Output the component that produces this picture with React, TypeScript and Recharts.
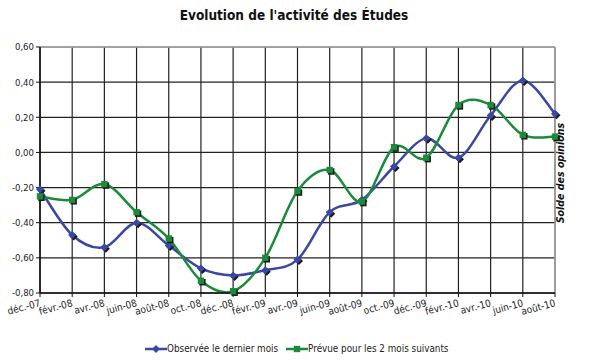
import { LineChart, Line, XAxis, YAxis, CartesianGrid, ReferenceLine } from "recharts";

document.body.style.margin = "0";

const months = [
  "déc.-07", "févr.-08", "avr.-08", "juin-08", "août-08", "oct.-08", "déc.-08",
  "févr.-09", "avr.-09", "juin-09", "août-09", "oct.-09", "déc.-09", "févr.-10",
  "avr.-10", "juin-10", "août-10",
];
const observed = [
  -0.21, -0.47, -0.54, -0.4, -0.53, -0.66, -0.7, -0.67, -0.61, -0.34, -0.27,
  -0.08, 0.08, -0.03, 0.21, 0.41, 0.22,
];
const forecast = [
  -0.25, -0.27, -0.18, -0.34, -0.49, -0.73, -0.79, -0.6, -0.22, -0.1, -0.28,
  0.03, -0.03, 0.27, 0.27, 0.1, 0.09,
];
const yTicks = [-0.8, -0.6, -0.4, -0.2, 0, 0.2, 0.4, 0.6];

const SERIES = [
  { key: "observed", name: "Observée le dernier mois", color: "#3a48a4", shape: "diamond" },
  { key: "forecast", name: "Prévue pour les 2 mois suivants", color: "#1b8a3a", shape: "square" },
];

const FONT = "'DejaVu Sans Condensed', 'DejaVu Sans', sans-serif";

const data = months.map((m, i) => ({ month: m, observed: observed[i], forecast: forecast[i] }));

// excel-like smoothed line (catmull-rom through the points)
function excelCurve(context: any) {
  let pts: number[][] = [];
  return {
    areaStart() {},
    areaEnd() {},
    lineStart() {
      pts = [];
    },
    lineEnd() {
      if (!pts.length) return;
      context.moveTo(pts[0][0], pts[0][1]);
      for (let i = 0; i < pts.length - 1; i++) {
        const p0 = pts[i - 1] || pts[i];
        const p1 = pts[i];
        const p2 = pts[i + 1];
        const p3 = pts[i + 2] || p2;
        context.bezierCurveTo(
          p1[0] + (p2[0] - p0[0]) / 6,
          p1[1] + (p2[1] - p0[1]) / 6,
          p2[0] - (p3[0] - p1[0]) / 6,
          p2[1] - (p3[1] - p1[1]) / 6,
          p2[0],
          p2[1]
        );
      }
    },
    point(x: number, y: number) {
      pts.push([x, y]);
    },
  };
}

function markerPath(shape: string, cx: number, cy: number) {
  if (shape === "diamond") {
    const r = 4;
    return `M${cx},${cy - r}L${cx + r},${cy}L${cx},${cy + r}L${cx - r},${cy}Z`;
  }
  const r = 3.2;
  return `M${cx - r},${cy - r}H${cx + r}V${cy + r}H${cx - r}Z`;
}

function makeDot(shape: string, color: string) {
  return (props: any) => {
    const { cx, cy, index } = props;
    if (cx == null || cy == null) return null;
    return (
      <g key={index}>
        <path d={markerPath(shape, cx + 1.5, cy + 1.5)} fill="#1a1a1a" />
        <path d={markerPath(shape, cx, cy)} fill={color} />
      </g>
    );
  };
}

function XTick({ x, y, payload }: any) {
  const ty = y + 7;
  return (
    <text
      x={x + 1}
      y={ty}
      transform={`rotate(-15 ${x + 1} ${ty})`}
      textAnchor="end"
      fontSize={10}
      fontFamily={FONT}
      fill="#222"
    >
      {payload.value}
    </text>
  );
}

const fmt = (v: number) => v.toFixed(2).replace(".", ",");

export default function App() {
  return (
    <div style={{ position: "relative", width: 590, height: 360, background: "#fff", fontFamily: FONT }}>
      <div
        style={{
          position: "absolute",
          top: 7,
          left: 0,
          width: 588,
          textAlign: "center",
          fontSize: 13.5,
          fontWeight: "bold",
          color: "#111",
        }}
      >
        Evolution de l'activité des Études
      </div>
      <LineChart
        width={590}
        height={360}
        data={data}
        margin={{ top: 47, right: 35, left: 0, bottom: 37 }}
      >
        <CartesianGrid stroke="#222" strokeWidth={1.2} />
        <ReferenceLine y={0.6} stroke="#a8a8a8" strokeWidth={1.5} />
        <ReferenceLine x="août-10" stroke="#a8a8a8" strokeWidth={1.5} />
        <XAxis
          dataKey="month"
          interval={0}
          tick={<XTick />}
          tickSize={4}
          height={30}
          tickLine={{ stroke: "#111" }}
          axisLine={{ stroke: "#111", strokeWidth: 1.5 }}
        />
        <YAxis
          domain={[-0.8, 0.6]}
          ticks={yTicks}
          tickFormatter={fmt}
          width={40}
          tickSize={4}
          tickLine={{ stroke: "#111" }}
          axisLine={{ stroke: "#111", strokeWidth: 1.5 }}
          tick={{ fontSize: 9.5, fontFamily: FONT, fill: "#222" }}
        />
        {SERIES.map((s) => (
          <Line
            key={s.key}
            dataKey={s.key}
            name={s.name}
            type={excelCurve as any}
            stroke={s.color}
            strokeWidth={2.5}
            dot={makeDot(s.shape, s.color)}
            activeDot={false}
            isAnimationActive={false}
          />
        ))}
      </LineChart>
      <div
        style={{
          position: "absolute",
          left: 560,
          top: 173,
          transform: "translate(-50%, -50%) rotate(-90deg)",
          whiteSpace: "nowrap",
          fontSize: 10.5,
          fontWeight: "bold",
          fontStyle: "italic",
          color: "#111",
        }}
      >
        Solde des opinions
      </div>
      <div
        style={{
          position: "absolute",
          top: 343,
          left: 145,
          display: "flex",
          alignItems: "center",
          fontSize: 9.8,
          color: "#222",
        }}
      >
        {SERIES.map((s, i) => (
          <div key={s.key} style={{ display: "flex", alignItems: "center", marginRight: i === 0 ? 8 : 0 }}>
            <svg width={22} height={10}>
              <line x1={0} y1={5} x2={22} y2={5} stroke={s.color} strokeWidth={2.5} />
              <path d={markerPath(s.shape, 11, 5)} fill={s.color} />
            </svg>
            <span>{s.name}</span>
          </div>
        ))}
      </div>
    </div>
  );
}
